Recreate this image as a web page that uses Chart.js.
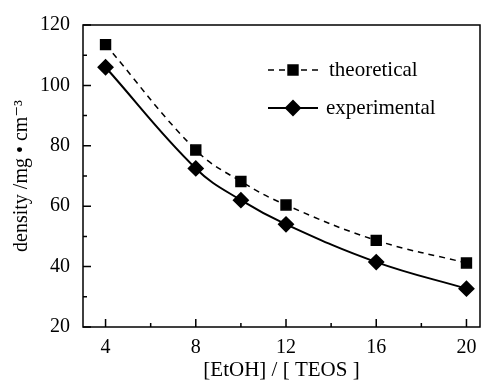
<!DOCTYPE html>
<html>
<head>
<meta charset="utf-8">
<script src="https://cdn.jsdelivr.net/npm/chart.js@4/dist/chart.umd.min.js"></script>
<style>
  body { margin: 0; background: #fff; }
  #wrap { width: 489px; height: 383px; }
</style>
</head>
<body>
<div id="wrap"><canvas id="myChart" width="489" height="383"></canvas></div>
<script>
// ratio [EtOH]/[TEOS]
const ratios = [4, 8, 10, 12, 16, 20];
// density, mg/cm3
const theoretical = [113.5, 78.6, 68.2, 60.4, 48.7, 41.2];
const experimental = [106, 72.5, 62, 54, 41.5, 32.7];

const xTicks = [4, 8, 12, 16, 20];
const xMinor = [6, 10, 14, 18];
const yTicks = [20, 40, 60, 80, 100, 120];
const yMinor = [30, 50, 70, 90, 110];

const serif = "'Liberation Serif', 'DejaVu Serif', serif";

function toPoints(ys) {
  return ratios.map((x, i) => ({ x: x, y: ys[i] }));
}

// frame, inward ticks and the legend box
const framePlugin = {
  id: 'frame',
  afterDraw(chart) {
    const ctx = chart.ctx;
    const a = chart.chartArea;
    const xs = chart.scales.x, ys = chart.scales.y;
    ctx.save();
    ctx.strokeStyle = '#000';
    ctx.lineWidth = 1.5;
    ctx.strokeRect(a.left, a.top, a.right - a.left, a.bottom - a.top);
    ctx.beginPath();
    xTicks.forEach(v => { const p = xs.getPixelForValue(v); ctx.moveTo(p, a.bottom); ctx.lineTo(p, a.bottom - 8); });
    xMinor.forEach(v => { const p = xs.getPixelForValue(v); ctx.moveTo(p, a.bottom); ctx.lineTo(p, a.bottom - 4); });
    yTicks.forEach(v => { const p = ys.getPixelForValue(v); ctx.moveTo(a.left, p); ctx.lineTo(a.left + 8, p); });
    yMinor.forEach(v => { const p = ys.getPixelForValue(v); ctx.moveTo(a.left, p); ctx.lineTo(a.left + 4, p); });
    ctx.stroke();

    // legend
    const rows = [{ y: 70 }, { y: 108 }];
    chart.data.datasets.forEach((ds, i) => {
      const y = rows[i].y;
      ctx.beginPath();
      ctx.lineWidth = ds.borderWidth;
      ctx.setLineDash(ds.borderDash || []);
      ctx.moveTo(268, y);
      ctx.lineTo(318, y);
      ctx.stroke();
      ctx.setLineDash([]);
      Chart.helpers.drawPoint(ctx, { pointStyle: ds.pointStyle, radius: ds.pointRadius, borderWidth: 1 }, 293, y);
      ctx.fillStyle = '#000';
      ctx.fill();
      ctx.font = '21px ' + serif;
      ctx.textBaseline = 'middle';
      ctx.fillText(ds.label, i === 0 ? 329 : 326, y);
    });
    ctx.restore();
  }
};

new Chart('myChart', {
  type: 'line',
  data: {
    datasets: [
      {
        label: 'theoretical',
        data: toPoints(theoretical),
        borderColor: '#000',
        backgroundColor: '#000',
        borderWidth: 1.5,
        borderDash: [6, 5],
        pointStyle: 'rect',
        pointRadius: 7,
        pointHoverRadius: 7,
        tension: 0.4
      },
      {
        label: 'experimental',
        data: toPoints(experimental),
        borderColor: '#000',
        backgroundColor: '#000',
        borderWidth: 2,
        pointStyle: 'rectRot',
        pointRadius: 7,
        pointHoverRadius: 7,
        tension: 0.4
      }
    ]
  },
  options: {
    responsive: false,
    animation: false,
    layout: { padding: { top: 20, right: 9, left: 0, bottom: 0 } },
    plugins: { legend: { display: false }, tooltip: { enabled: false } },
    scales: {
      x: {
        type: 'linear',
        min: 3,
        max: 20.6,
        afterBuildTicks(scale) { scale.ticks = xTicks.map(v => ({ value: v })); },
        afterFit(scale) { scale.height = 56; },
        grid: { display: false, drawTicks: false },
        border: { display: false },
        ticks: { color: '#000', font: { family: serif, size: 20 }, padding: 9 },
        title: {
          display: true,
          text: '[EtOH] / [ TEOS ]',
          color: '#000',
          font: { family: serif, size: 21 },
          padding: { top: 0, bottom: 0 }
        }
      },
      y: {
        min: 20,
        max: 120,
        afterBuildTicks(scale) { scale.ticks = yTicks.map(v => ({ value: v })); },
        afterFit(scale) { scale.width = 83; },
        grid: { display: false, drawTicks: false },
        border: { display: false },
        ticks: { color: '#000', font: { family: serif, size: 20 }, padding: 13 },
        title: {
          display: true,
          text: 'density /mg \u2022 cm\u207B\u00B3',
          color: '#000',
          font: { family: serif, size: 20 },
          padding: { top: 10, bottom: 0 }
        }
      }
    }
  },
  plugins: [framePlugin]
});
</script>
</body>
</html>
